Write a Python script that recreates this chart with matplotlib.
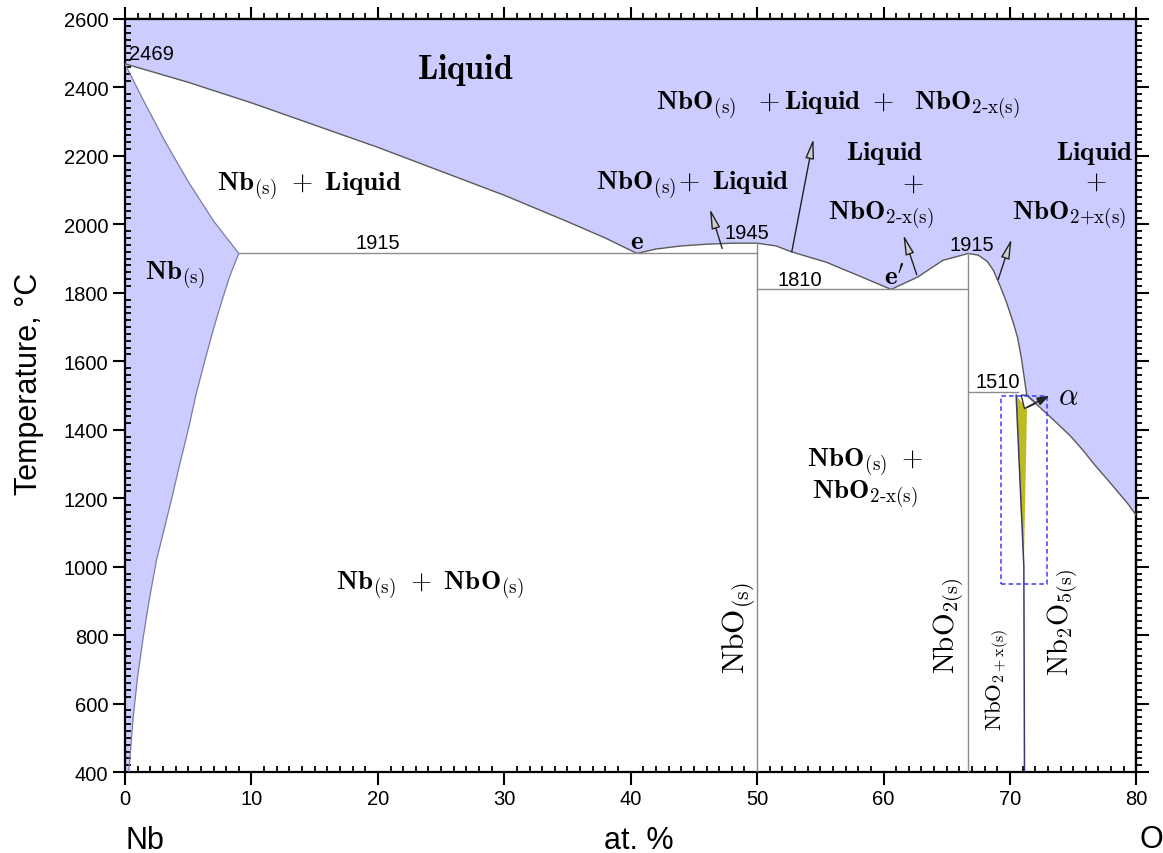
import matplotlib
matplotlib.use("Agg")
import matplotlib.pyplot as plt
from matplotlib.patches import Polygon, Rectangle, FancyArrowPatch
from matplotlib.ticker import MultipleLocator, NullFormatter

plt.rcParams['mathtext.fontset'] = 'cm'
plt.rcParams['font.family'] = ['Liberation Sans', 'DejaVu Sans']

# ---- phase boundaries: composition (at.% O) and temperature (°C) ----
# Nb-rich liquidus, 2469 (pure Nb) down to eutectic e
liq_nb_x = [0, 5, 10, 15, 20, 25, 30, 35, 38, 40.5]
liq_nb_t = [2469, 2415, 2355, 2290, 2225, 2155, 2085, 2008, 1960, 1915]
# liquidus over NbO: e -> 1945 maximum -> e'
liq_nbo_x = [40.5, 42, 44, 46, 48, 50, 51.5, 52.7, 55.5, 58.1, 60.6]
liq_nbo_t = [1915, 1928, 1937, 1942, 1945, 1945, 1937, 1920, 1889, 1849, 1810]
# liquidus over NbO2: e' -> 1915 maximum -> 1510
liq_nbo2_x = [60.6, 62.7, 64.7, 66.7, 67.5, 68.2, 68.7, 69.2, 69.7, 70.2, 70.6, 70.9, 71.1, 71.33]
liq_nbo2_t = [1810, 1846, 1895, 1915, 1910, 1892, 1865, 1822, 1775, 1720, 1670, 1610, 1560, 1501]
# O-rich liquidus
liq_o_x = [71.33, 72.0, 72.7, 73.7, 74.8, 75.8, 76.8, 77.7, 78.5, 79.3, 80]
liq_o_t = [1501, 1478, 1454, 1420, 1381, 1339, 1293, 1255, 1220, 1185, 1150]

# Nb solid solution: solidus and solvus
sol_nb_x = [0, 1.4, 3.2, 5.0, 7.0, 9.0]
sol_nb_t = [2469, 2366, 2240, 2125, 2010, 1915]
solv_nb_x = [9.0, 8.3, 7.7, 7.0, 6.3, 5.6, 5.0, 4.3, 3.7, 3.1, 2.5, 1.9, 1.45, 1.0, 0.65, 0.3]
solv_nb_t = [1915, 1850, 1781, 1695, 1600, 1500, 1400, 1295, 1200, 1110, 1021, 900, 796, 680, 562, 400]

# NbO2+x phase field and its boundary
nbo2x_x = [70.49, 71.35, 71.1]
nbo2x_t = [1501, 1460, 1001]
nbo2x_line_x = [70.49, 71.1, 71.15]
nbo2x_line_t = [1501, 1001, 400]
alpha_x = [70.89, 71.33, 72.06, 71.15]
alpha_t = [1501, 1501, 1477, 1462]

# invariant lines
X_NBO, X_NBO2 = 50.0, 66.67
T_E, T_NBO, T_EP, T_NBO2, T_PER = 1915, 1945, 1810, 1915, 1510
X_SOLV_E = 9.0
X_PER_END = 70.6

# detail box around the NbO2+x field
box_x = (69.3, 72.9)
box_t = (950, 1500)

xticks = list(range(0, 81, 10))
yticks = list(range(400, 2601, 200))

BLUE = '#ccccff'
LINE = '#5a5a5a'
GRID = '#8c8c8c'

fig = plt.figure(figsize=(11.63, 8.54), dpi=100)
ax = fig.add_axes([0.1075, 0.0948, 0.8696, 0.8818])
ax.set_xlim(0, 80)
ax.set_ylim(400, 2600)

liq_x = liq_nb_x + liq_nbo_x[1:] + liq_nbo2_x[1:] + liq_o_x[1:]
liq_t = liq_nb_t + liq_nbo_t[1:] + liq_nbo2_t[1:] + liq_o_t[1:]

liquid_poly = [(0, 2600)] + list(zip(liq_x, liq_t)) + [(80, 2600)]
ax.add_patch(Polygon(liquid_poly, closed=True, fc=BLUE, ec='none', zorder=1))
nbss_poly = list(zip(sol_nb_x, sol_nb_t)) + list(zip(solv_nb_x[1:], solv_nb_t[1:])) + [(0, 400)]
ax.add_patch(Polygon(nbss_poly, closed=True, fc=BLUE, ec='none', zorder=1))
ax.add_patch(Polygon(list(zip(alpha_x, alpha_t)), closed=True, fc='white', ec='#222222', lw=0.9, zorder=3))
ax.add_patch(Polygon(list(zip(nbo2x_x, nbo2x_t)), closed=True, fc='#bcbc22', ec='none', zorder=2))

ax.plot(liq_x, liq_t, color=LINE, lw=1.0, zorder=3)
ax.plot(sol_nb_x, sol_nb_t, color='#7a7aa8', lw=0.9, zorder=3)
ax.plot(solv_nb_x, solv_nb_t, color='#7a7aa8', lw=0.9, zorder=3)
ax.plot(nbo2x_line_x, nbo2x_line_t, color='#3a3a6a', lw=1.1, zorder=4)

ax.plot([X_SOLV_E, X_NBO], [T_E, T_E], color=GRID, lw=1.0, zorder=3)
ax.plot([X_NBO, X_NBO], [400, T_NBO], color=GRID, lw=1.0, zorder=3)
ax.plot([X_NBO, X_NBO2], [T_EP, T_EP], color=GRID, lw=1.0, zorder=3)
ax.plot([X_NBO2, X_NBO2], [400, T_NBO2], color=GRID, lw=1.0, zorder=3)
ax.plot([X_NBO2, X_PER_END], [T_PER, T_PER], color=GRID, lw=1.0, zorder=3)

ax.add_patch(Rectangle((box_x[0], box_t[0]), box_x[1] - box_x[0], box_t[1] - box_t[0],
                       fill=False, ec='#3a3aff', lw=1.1, ls=(0, (3, 2)), zorder=5))

# arrows pointing into the narrow two-phase fields
arrow_kw = dict(arrowstyle='-|>,head_length=1.0,head_width=0.22', mutation_scale=12,
                fc='#cfcfcf', ec='#222222', lw=1.0, zorder=6)
for (x0, t0), (x1, t1) in [((47.3, 1922), (46.2, 2053)),
                           ((52.7, 1912), (54.5, 2258)),
                           ((62.7, 1845), (61.5, 1977)),
                           ((69.0, 1831), (70.2, 1965))]:
    ax.add_patch(FancyArrowPatch((x0, t0), (x1, t1), **arrow_kw))
ax.add_patch(FancyArrowPatch((71.15, 1462), (73.3, 1503),
                             arrowstyle='-|>,head_length=0.7,head_width=0.25', mutation_scale=10,
                             fc='#222222', ec='#222222', lw=1.1, zorder=6))

# phase labels
def lab(x, t, s, size=19.5, **kw):
    ax.text(x, t, s, fontsize=size, ha='center', va='center', zorder=7, **kw)

S = r'_{\rm (s)}'
lab(26.9, 2454, r'$\mathbf{Liquid}$', size=24.5)
lab(56.4, 2351, r'$\mathbf{NbO}' + S + r'\ \ +\mathbf{Liquid}\ +\ \ \mathbf{NbO}_{\text{2-x(s)}}$')
lab(14.6, 2115, r'$\mathbf{Nb}' + S + r'\ +\ \mathbf{Liquid}$')
lab(44.9, 2118, r'$\mathbf{NbO}' + S + r'\!+\ \mathbf{Liquid}$')
lab(60.1, 2211, r'$\mathbf{Liquid}$')
lab(62.3, 2123, r'$+$')
lab(59.8, 2030, r'$\mathbf{NbO}_{\text{2-x(s)}}$')
lab(76.7, 2211, r'$\mathbf{Liquid}$')
lab(76.8, 2129, r'$+$')
lab(74.7, 2030, r'$\mathbf{NbO}_{\text{2+x(s)}}$')
lab(3.95, 1855, r'$\mathbf{Nb}' + S + r'$')
lab(24.1, 948, r'$\mathbf{Nb}' + S + r'\ +\ \mathbf{NbO}' + S + r'$')
lab(58.5, 1308, r'$\mathbf{NbO}' + S + r'\ +$')
lab(58.5, 1214, r'$\mathbf{NbO}_{\text{2-x(s)}}$')
lab(40.5, 1951, r'$\mathbf{e}$')
lab(60.9, 1849, r"$\mathbf{e}'$")

lab(48.6, 825, r'$\mathrm{NbO}' + S + r'$', size=22.5, rotation=90)
lab(65.2, 831, r'$\mathrm{NbO}_{\rm 2(s)}$', size=21, rotation=90)
lab(69.0, 672, r'$\mathrm{NbO}_{\rm 2+x(s)}$', size=16.5, rotation=90)
lab(74.2, 840, r'$\mathrm{Nb}_{\rm 2}\mathrm{O}_{\rm 5(s)}$', size=20.5, rotation=90)
lab(74.6, 1497, r'$\alpha$', size=22)

# temperature annotations
for x, t, s in [(2.1, 2498, '2469'), (20.0, 1948, '1915'), (49.2, 1977, '1945'),
                (53.4, 1840, '1810'), (67.0, 1942, '1915'), (69.0, 1542, '1510')]:
    ax.text(x, t, s, fontsize=14.5, ha='center', va='center', zorder=7)

# axes, ticks
for sp in ax.spines.values():
    sp.set_linewidth(1.6)
ax.xaxis.set_major_locator(MultipleLocator(10))
ax.xaxis.set_minor_locator(MultipleLocator(1))
ax.yaxis.set_major_locator(MultipleLocator(200))
ax.yaxis.set_minor_locator(MultipleLocator(20))
ax.set_xticks(xticks)
ax.set_yticks(yticks)
ax.tick_params(which='major', direction='out', length=9, width=1.5, labelsize=14.5, pad=3)
ax.tick_params(which='minor', direction='in', length=4, width=1.3)

secx = ax.secondary_xaxis('top')
secx.xaxis.set_major_locator(MultipleLocator(10))
secx.xaxis.set_minor_locator(MultipleLocator(1))
secx.xaxis.set_major_formatter(NullFormatter())
secx.tick_params(which='major', direction='out', length=9, width=1.5)
secx.tick_params(which='minor', direction='out', length=4.5, width=1.3)
secx.spines['top'].set_linewidth(1.6)

secy = ax.secondary_yaxis('right')
secy.yaxis.set_major_locator(MultipleLocator(200))
secy.yaxis.set_minor_locator(MultipleLocator(20))
secy.yaxis.set_major_formatter(NullFormatter())
secy.tick_params(which='major', direction='out', length=9, width=1.5)
secy.tick_params(which='minor', direction='out', length=4.5, width=1.3)
secy.spines['right'].set_linewidth(1.6)

fig.text(29 / 1163, 1 - 384 / 854, 'Temperature, °C', rotation=90, fontsize=22,
         ha='center', va='center')
fig.text(145 / 1163, 1 - 841 / 854, 'Nb', fontsize=22, ha='center', va='center')
fig.text(639 / 1163, 1 - 841 / 854, 'at. %', fontsize=22, ha='center', va='center')
fig.text(1151 / 1163, 1 - 840 / 854, 'O', fontsize=22, ha='center', va='center')

fig.savefig('out.png', dpi=100)
